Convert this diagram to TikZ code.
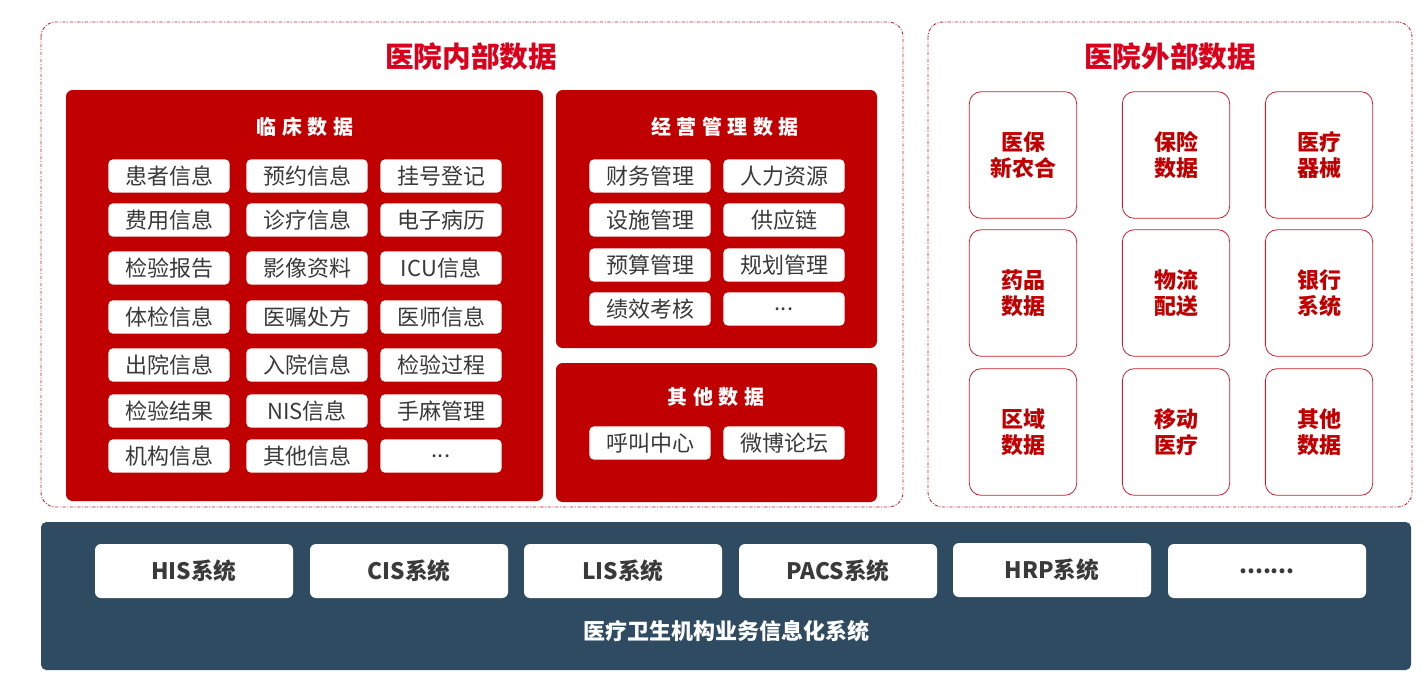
\documentclass[tikz,border=0pt]{standalone}
\usepackage{fontspec}
\setmainfont{Noto Sans CJK SC}
\usepackage{tikz}

\definecolor{panelred}{RGB}{192,0,0}
\definecolor{titlered}{RGB}{218,0,28}
\definecolor{linered}{RGB}{200,30,45}
\definecolor{itemgray}{RGB}{58,58,58}
\definecolor{basenavy}{RGB}{47,75,98}

\tikzset{
  outerbox/.style={draw=linered, line width=0.65pt, dash pattern={on 2.5pt off 1.2pt on 0.7pt off 1.2pt}, rounded corners=11pt},
  panel/.style={fill=panelred, rounded corners=5pt},
  paneltitle/.style={text=white, font=\bfseries\addfontfeatures{LetterSpace=28}\fontsize{15}{18}\selectfont},
  bigtitle/.style={text=titlered, font=\bfseries\fontsize{21.5}{24}\selectfont},
  item/.style={fill=white, rounded corners=3.5pt, minimum width=91pt, minimum height=25pt, inner sep=0pt, text=itemgray, font=\fontsize{16.5}{18}\selectfont},
  extbox/.style={draw=linered, line width=0.6pt, rounded corners=9pt, minimum width=80.5pt, minimum height=95pt, align=center, text=panelred, font=\bfseries\fontsize{16.5}{19.5}\selectfont},
  sysbox/.style={fill=white, rounded corners=4.5pt, minimum width=148.5pt, minimum height=40.5pt, text=itemgray, font=\bfseries\fontsize{17}{19}\selectfont}
}

\begin{document}
\begin{tikzpicture}[x=0.75pt,y=0.75pt,yscale=-1,xscale=1]
\useasboundingbox (0,0) rectangle (1426,682);

%Shape: dashed frames
\draw [outerbox] (41,22) rectangle (903,507);
\draw [outerbox] (928,22) rectangle (1412,507);

% Text Node
\node [bigtitle] (tin) at (471,57) {医院内部数据};
\node [bigtitle] (tout) at (1170,57) {医院外部数据};

%Shape: red panels
\fill [panel] (66,90) rectangle (543,501);
\fill [panel] (556,90) rectangle (877,348);
\fill [panel] (556,363) rectangle (877,502);

% Text Node
\node [paneltitle] (tclin) at (305,127) {临床数据};
\node [paneltitle] (tmgmt) at (725,127) {经营管理数据};
\node [paneltitle] (toth) at (716,397) {其他数据};

%clinical items
\node [item] (cl11) at (169,176) {患者信息};
\node [item] (cl12) at (307,176) {预约信息};
\node [item] (cl13) at (441,176) {挂号登记};
\node [item] (cl21) at (169,220) {费用信息};
\node [item] (cl22) at (307,220) {诊疗信息};
\node [item] (cl23) at (441,220) {电子病历};
\node [item] (cl31) at (169,268) {检验报告};
\node [item] (cl32) at (307,268) {影像资料};
\node [item] (cl33) at (441,268) {ICU信息};
\node [item] (cl41) at (169,317) {体检信息};
\node [item] (cl42) at (307,317) {医嘱处方};
\node [item] (cl43) at (441,317) {医师信息};
\node [item] (cl51) at (169,365) {出院信息};
\node [item] (cl52) at (307,365) {入院信息};
\node [item] (cl53) at (441,365) {检验过程};
\node [item] (cl61) at (169,411) {检验结果};
\node [item] (cl62) at (307,411) {NIS信息};
\node [item] (cl63) at (441,411) {手麻管理};
\node [item] (cl71) at (169,456) {机构信息};
\node [item] (cl72) at (307,456) {其他信息};
\node [item] (cl73) at (441,456) {...};

%management items
\node [item] (mg11) at (650,176) {财务管理};
\node [item] (mg12) at (784,176) {人力资源};
\node [item] (mg21) at (650,220) {设施管理};
\node [item] (mg22) at (784,220) {供应链};
\node [item] (mg31) at (650,265) {预算管理};
\node [item] (mg32) at (784,265) {规划管理};
\node [item] (mg41) at (650,309) {绩效考核};
\node [item] (mg42) at (784,309) {...};

%other items
\node [item] (ot1) at (650,443) {呼叫中心};
\node [item] (ot2) at (784,443) {微博论坛};

%external boxes
\node [extbox] (ex11) at (1023,155) {医保\\新农合};
\node [extbox] (ex12) at (1176,155) {保险\\数据};
\node [extbox] (ex13) at (1319,155) {医疗\\器械};
\node [extbox] (ex21) at (1023,293) {药品\\数据};
\node [extbox] (ex22) at (1176,293) {物流\\配送};
\node [extbox] (ex23) at (1319,293) {银行\\系统};
\node [extbox] (ex31) at (1023,432) {区域\\数据};
\node [extbox] (ex32) at (1176,432) {移动\\医疗};
\node [extbox] (ex33) at (1319,432) {其他\\数据};

%Shape: base band
\fill [basenavy, rounded corners=4pt] (41,522) rectangle (1411,670);

%system boxes
\node [sysbox] (his) at (194,571) {HIS系统};
\node [sysbox] (cis) at (409,571) {CIS系统};
\node [sysbox] (lis) at (623,571) {LIS系统};
\node [sysbox] (pacs) at (838,571) {PACS系统};
\node [sysbox] (hrp) at (1052,570) {HRP系统};
\node [sysbox] (more) at (1267,571) {.......};

% Text Node
\node [text=white, font=\bfseries\fontsize{16.5}{18}\selectfont] (tbase) at (726,631) {医疗卫生机构业务信息化系统};

\end{tikzpicture}
\end{document}
